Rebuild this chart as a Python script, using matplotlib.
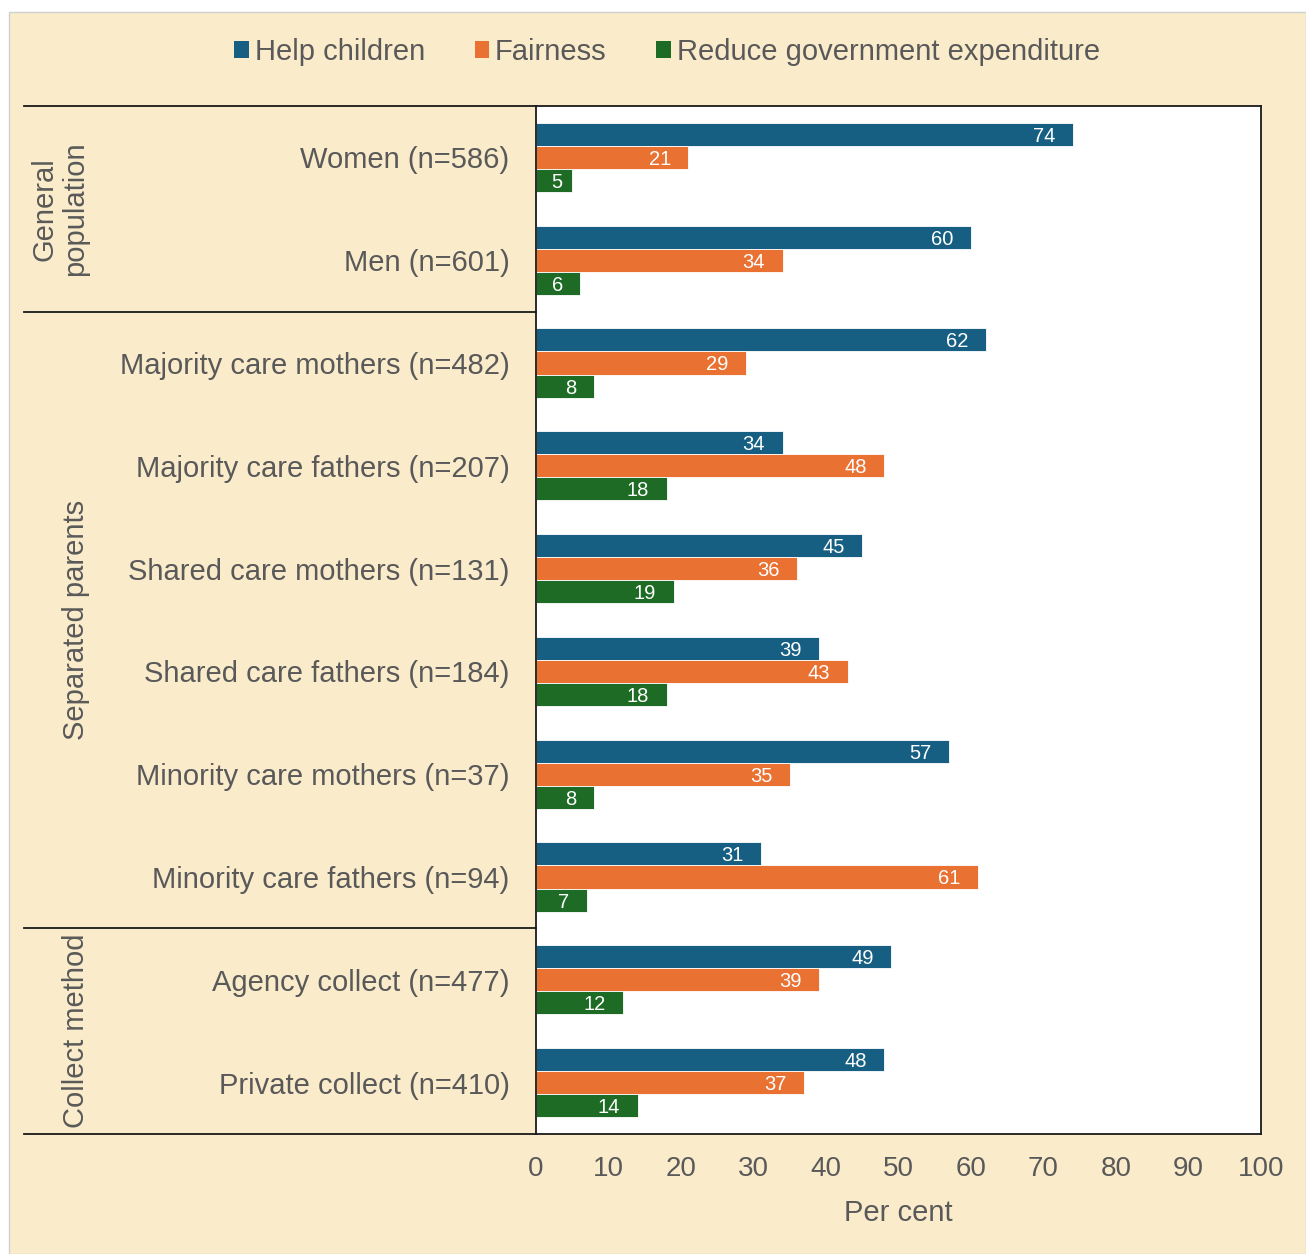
import matplotlib
matplotlib.use("Agg")
import matplotlib.pyplot as plt
import matplotlib.transforms as mtransforms
from matplotlib.patches import Rectangle, Patch
from matplotlib.lines import Line2D

plt.rcParams["font.family"] = ["Liberation Sans", "DejaVu Sans"]

# ---- data -------------------------------------------------------------
categories = [
    "Women (n=586)",
    "Men (n=601)",
    "Majority care mothers (n=482)",
    "Majority care fathers (n=207)",
    "Shared care mothers (n=131)",
    "Shared care fathers (n=184)",
    "Minority care mothers (n=37)",
    "Minority care fathers (n=94)",
    "Agency collect (n=477)",
    "Private collect (n=410)",
]
help_children = [74, 60, 62, 34, 45, 39, 57, 31, 49, 48]
fairness = [21, 34, 29, 48, 36, 43, 35, 61, 39, 37]
reduce_expenditure = [5, 6, 8, 18, 19, 18, 8, 7, 12, 14]

series_names = ["Help children", "Fairness", "Reduce government expenditure"]
series_values = [help_children, fairness, reduce_expenditure]

# group name, first category index, last category index
groups = [
    ("General\npopulation", 0, 1),
    ("Separated parents", 2, 7),
    ("Collect method", 8, 9),
]

x_ticks = [0, 10, 20, 30, 40, 50, 60, 70, 80, 90, 100]
x_label = "Per cent"

# ---- style ------------------------------------------------------------
colors = ["#175F82", "#E97132", "#1D6B24"]
panel_bg = "#FAEBCB"
text_grey = "#595959"

W, H = 1306, 1254
fig = plt.figure(figsize=(W / 100, H / 100), dpi=100)
fig.patch.set_facecolor("white")

# beige panel behind everything
fig.add_artist(Rectangle((9 / W, 0), 1 - 9 / W, 1 - 12 / H,
                         transform=fig.transFigure, facecolor=panel_bg,
                         edgecolor="#D0D0D0", linewidth=1.0, zorder=0))

ax_l, ax_r, ax_t, ax_b = 536 / W, 1261 / W, 1 - 106 / H, 1 - 1134 / H
ax = fig.add_axes([ax_l, ax_b, ax_r - ax_l, ax_t - ax_b])
ax.set_facecolor("white")

n = len(categories)
bar_h = 0.225
offsets = [-bar_h, 0.0, bar_h]
ypos = list(range(n))

for vals, off, col in zip(series_values, offsets, colors):
    y = [p + off for p in ypos]
    ax.barh(y, vals, height=bar_h, color=col, edgecolor="white",
            linewidth=0.6, zorder=2)
    for yy, v in zip(y, vals):
        ax.text(max(v - 2.4, 3.7), yy, f"{v}", ha="right",
                va="center_baseline", color="white", fontsize=14.5, zorder=3)

ax.set_xlim(0, 100)
ax.set_ylim(n - 0.5, -0.5)
ax.set_xticks(x_ticks)
ax.set_xticklabels([str(t) for t in x_ticks])
ax.set_yticks(ypos)
ax.set_yticklabels(categories)
ax.tick_params(axis="both", length=0, colors=text_grey, labelsize=20)
ax.tick_params(axis="y", pad=19, labelsize=21)
ax.tick_params(axis="x", pad=16)
ax.set_xlabel(x_label, fontsize=21, color=text_grey, labelpad=12)

for s in ax.spines.values():
    s.set_color("#1a1a1a")
    s.set_linewidth(1.3)

# group separators and rotated group names on the left
trans = mtransforms.blended_transform_factory(fig.transFigure, ax.transData)
bounds = sorted({g[1] - 0.5 for g in groups} | {g[2] + 0.5 for g in groups})
for b in bounds:
    fig.add_artist(Line2D([24 / W, ax_l], [b, b], transform=trans,
                          color="#1a1a1a", linewidth=1.3, clip_on=False))

for name, first, last in groups:
    xc = 60 / W if "\n" in name else 76 / W
    fig.text(xc, (first + last) / 2, name, transform=trans, rotation=90,
             ha="center", va="center", fontsize=21, color=text_grey,
             linespacing=1.1)

# legend across the top
handles = [Patch(facecolor=c, edgecolor="none") for c in colors]
fig.legend(handles, series_names, loc="center",
           bbox_to_anchor=(667 / W, 1 - 52 / H), ncol=3, frameon=False,
           fontsize=21, labelcolor=text_grey, handlelength=0.5,
           handleheight=0.5, handletextpad=0.2, columnspacing=1.7)

fig.savefig("out.png", dpi=100, facecolor=fig.get_facecolor())
